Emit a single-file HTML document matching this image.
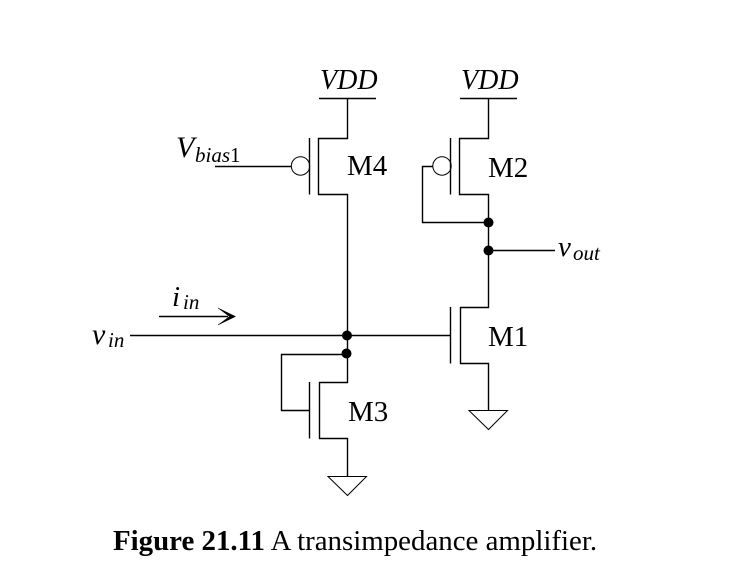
<!DOCTYPE html>
<html>
<head>
<meta charset="utf-8">
<style>
html,body{margin:0;padding:0;background:#fff;width:729px;height:580px;overflow:hidden}
svg{display:block}
text{font-family:"Liberation Serif",serif;fill:#000}
.i{font-style:italic}
.l{font-size:28px}
.m{font-size:29px}
.s{font-size:21px;font-style:italic}
</style>
</head>
<body>
<svg width="729" height="580" viewBox="0 0 729 580" xmlns="http://www.w3.org/2000/svg">
<g fill="none" stroke="#000" stroke-width="1.4">
<!-- M4 -->
<path d="M319 98.5H376M347.5 98.5V138.5H318.5V194.5H347.5V335.5"/>
<path d="M309.5 138V194.5"/>
<circle cx="300.5" cy="166" r="9.2" stroke-width="1"/>
<path d="M215 166.5H291"/>
<!-- M2 -->
<path d="M460 98.5H517M488.5 98.5V138.5H459.5V194.5H488.5V307.5H460.5V363.5H488.5V410.5"/>
<path d="M450.5 138V194.5"/>
<circle cx="442" cy="166" r="9.2" stroke-width="1"/>
<path d="M432.5 166.5H422.5V222.5H488.5"/>
<path d="M488.5 250.5H555"/>
<!-- M1 -->
<path d="M450.5 307V363.5"/>
<path d="M130 335.5H450.5"/>
<path d="M469 410.5H507.5L488.5 429.5Z" stroke-width="1"/>
<!-- M3 -->
<path d="M346 354.5H281.5V410.5H309.5"/>
<path d="M347.5 335.5V382.5H319.5V438.5H347.5V476.5"/>
<path d="M309.5 382V438.5"/>
<path d="M328 476.5H366.5L347.5 495.5Z" stroke-width="1"/>
<!-- current arrow -->
<path d="M159 316.5H228"/>
</g>
<path d="M235.5 316.5L218 308L229.5 316.5L218 325Z" fill="#000" stroke="#000" stroke-width="0.5"/>
<g fill="#000">
<circle cx="488.5" cy="222.5" r="5"/>
<circle cx="488.5" cy="250.5" r="5"/>
<circle cx="347" cy="335.5" r="5"/>
<circle cx="346.5" cy="353.5" r="5"/>
</g>
<text class="i l" x="320" y="89">VDD</text>
<text class="i l" x="461" y="89">VDD</text>
<text class="m" x="347" y="175">M4</text>
<text class="m" x="488" y="177">M2</text>
<text class="m" x="488" y="346">M1</text>
<text class="m" x="348" y="421">M3</text>
<text class="i" font-size="30" x="176" y="157">V</text>
<text class="s" x="195" y="162">bias<tspan font-style="normal">1</tspan></text>
<text class="i" font-size="29" x="558" y="256">v</text>
<text class="s" x="573" y="260">out</text>
<text class="i" font-size="29" x="172" y="306">i</text>
<text class="s" x="183" y="309">in</text>
<text class="i" font-size="30" x="92" y="344">v</text>
<text class="s" x="108" y="347">in</text>
<text font-size="28.9" x="113" y="550"><tspan font-weight="bold">Figure 21.11</tspan> A transimpedance amplifier.</text>
</svg>
</body>
</html>
